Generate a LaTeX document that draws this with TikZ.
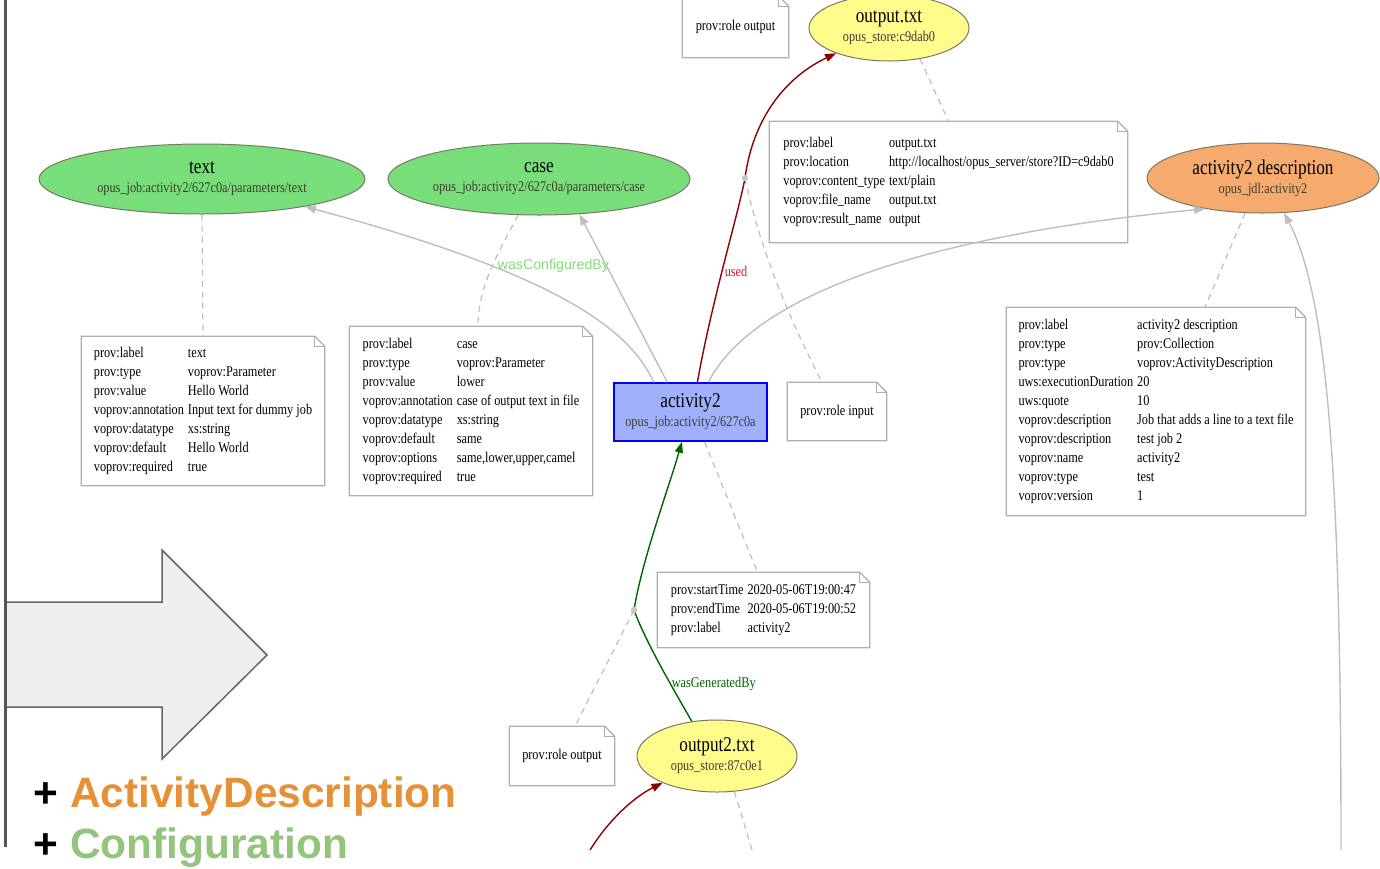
\documentclass[tikz,border=0pt]{standalone}
\usepackage{fontspec}
\usetikzlibrary{arrows.meta,shapes.geometric}

\newfontfamily\gvfont[FakeStretch=0.83]{Liberation Serif}
\newfontfamily\gvtitle[FakeStretch=0.82]{Liberation Serif}
\newfontfamily\slidefont{Liberation Sans}
\newcommand\gvsmall{\gvfont\fontsize{7.4}{9.5}\selectfont}
\newcommand\gvbig{\gvtitle\fontsize{10.5}{10}\selectfont}
\newcommand\slidebig{\slidefont\bfseries\fontsize{21.2}{25}\selectfont}

\definecolor{gvgreen}{RGB}{120,222,122}
\definecolor{gvyellow}{RGB}{255,252,140}
\definecolor{gvorange}{RGB}{246,170,110}
\definecolor{gvblue}{RGB}{160,176,250}
\definecolor{gvedge}{RGB}{190,190,190}
\definecolor{gvnote}{RGB}{175,175,175}
\definecolor{gvborder}{RGB}{120,120,100}
\definecolor{subtxt}{RGB}{60,60,50}
\definecolor{usedred}{RGB}{139,0,0}
\definecolor{usedlbl}{RGB}{225,20,30}
\definecolor{genlbl}{RGB}{0,100,0}
\definecolor{cfglbl}{RGB}{130,220,120}
\definecolor{adorange}{RGB}{230,145,56}
\definecolor{cfggreen}{RGB}{147,196,125}
\definecolor{bargray}{RGB}{85,85,85}
\definecolor{arrfill}{RGB}{238,238,238}

\tikzset{every picture/.style={line width=0.75pt}}

\begin{document}
\begin{tikzpicture}[x=0.5pt,y=-0.5pt,
  ent/.style={ellipse, draw=gvborder, line width=0.5pt, inner sep=0pt, align=center, font=\gvsmall},
  actbox/.style={rectangle, draw=blue, fill=gvblue, line width=0.75pt, inner sep=0pt, align=center, font=\gvsmall, minimum width=76.5pt, minimum height=29pt},
  note/.style={rectangle, fill=white, inner sep=0pt, align=left, font=\gvsmall},
  notefr/.style={draw=gvnote, line width=0.6pt},
  tip/.style={-{Triangle[length=5.5pt,width=4pt]}},
  rel/.style={draw=gvedge, line width=0.7pt, tip},
  usededge/.style={draw=usedred, line width=0.7pt, tip},
  genedge/.style={draw=genlbl, line width=0.7pt, tip},
  ann/.style={draw=gvedge, line width=0.6pt, dash pattern=on 3pt off 2.5pt},
  lbl/.style={anchor=west, inner sep=0pt, font=\gvsmall}]
\useasboundingbox (0,0) rectangle (1380,868);
\clip (0,0) rectangle (1380,868);

%Shape: Arrow [left part of the slide]
\draw [draw=bargray!90, fill=arrfill, line width=0.75pt] (6,602) -- (162,602) -- (162,550) -- (267,655) -- (162,759) -- (162,707) -- (6,707) ;
\draw [bargray, line width=1.5pt] (5,0) -- (5,847) ;

% Text Node
\node [anchor=base west, inner sep=0pt, font=\slidebig] (plusAD) at (33,807) {+ \textcolor{adorange}{ActivityDescription}};
% Text Node
\node [anchor=base west, inner sep=0pt, font=\slidebig] (plusCfg) at (33,858) {+ \textcolor{cfggreen}{Configuration}};

%Entities and activity
\node [ent, fill=gvgreen, minimum width=163pt, minimum height=35pt] (txt) at (202,179) {{\gvbig text}\\{\color{subtxt}opus\_job:activity2/627c0a/parameters/text}};
\node [ent, fill=gvgreen, minimum width=151pt, minimum height=36pt] (case) at (539,179) {{\gvbig case}\\{\color{subtxt}opus\_job:activity2/627c0a/parameters/case}};
\node [ent, fill=gvyellow, minimum width=80pt, minimum height=33pt] (out) at (889,28) {{\gvbig output.txt}\\{\color{subtxt}opus\_store:c9dab0}};
\node [ent, fill=gvorange, minimum width=116pt, minimum height=35pt] (desc) at (1263,178) {{\gvbig activity2 description}\\{\color{subtxt}opus\_jdl:activity2}};
\node [ent, fill=gvyellow, minimum width=80pt, minimum height=36pt] (out2) at (717,756) {{\gvbig output2.txt}\\{\color{subtxt}opus\_store:87c0e1}};
\node [actbox] (act) at (690.5,412) {{\gvbig activity2}\\{\color{subtxt}opus\_job:activity2/627c0a}};

%Notes
\node [note, minimum width=52.5pt, minimum height=30pt] (roleTop) at (735.5,27) {prov:role output};
\node [note, minimum width=178.5pt, minimum height=60pt] (outNote) at (948.5,182) {\begin{tabular}{@{}l@{\hspace{2pt}}l@{}}
prov:label & output.txt\\
prov:location & http://localhost/opus\_server/store?ID=c9dab0\\
voprov:content\_type & text/plain\\
voprov:file\_name & output.txt\\
voprov:result\_name & output
\end{tabular}};
\node [note, minimum width=121pt, minimum height=74pt] (textNote) at (203,411) {\begin{tabular}{@{}l@{\hspace{2pt}}l@{}}
prov:label & text\\
prov:type & voprov:Parameter\\
prov:value & Hello World\\
voprov:annotation & Input text for dummy job\\
voprov:datatype & xs:string\\
voprov:default & Hello World\\
voprov:required & true
\end{tabular}};
\node [note, minimum width=121pt, minimum height=84pt] (caseNote) at (471,411) {\begin{tabular}{@{}l@{\hspace{2pt}}l@{}}
prov:label & case\\
prov:type & voprov:Parameter\\
prov:value & lower\\
voprov:annotation & case of output text in file\\
voprov:datatype & xs:string\\
voprov:default & same\\
voprov:options & same,lower,upper,camel\\
voprov:required & true
\end{tabular}};
\node [note, minimum width=49pt, minimum height=28.5pt] (roleIn) at (837,411.5) {prov:role input};
\node [note, minimum width=149pt, minimum height=103.5pt] (descNote) at (1156,411.5) {\begin{tabular}{@{}l@{\hspace{2pt}}l@{}}
prov:label & activity2 description\\
prov:type & prov:Collection\\
prov:type & voprov:ActivityDescription\\
uws:executionDuration & 20\\
uws:quote & 10\\
voprov:description & Job that adds a line to a text file\\
voprov:description & test job 2\\
voprov:name & activity2\\
voprov:type & test\\
voprov:version & 1
\end{tabular}};
\node [note, minimum width=105.5pt, minimum height=37pt] (timeNote) at (763.5,610) {\begin{tabular}{@{}l@{\hspace{2pt}}l@{}}
prov:startTime & 2020-05-06T19:00:47\\
prov:endTime & 2020-05-06T19:00:52\\
prov:label & activity2
\end{tabular}};
\node [note, minimum width=52pt, minimum height=29pt] (roleBot) at (562,756) {prov:role output};

\foreach \n in {roleTop,outNote,textNote,caseNote,roleIn,descNote,timeNote,roleBot} {
  \draw [notefr] (\n.north west) -- ([xshift=-5pt]\n.north east) -- ([yshift=-5pt]\n.north east) -- (\n.south east) -- (\n.south west) -- cycle ;
  \draw [notefr] ([xshift=-5pt]\n.north east) |- ([yshift=-5pt]\n.north east) ;
}

\coordinate (dUsed) at (745,178);
\coordinate (dGen) at (634,610);
\coordinate (inOut2) at (590,850);
\coordinate (downOut2) at (752,850);
\coordinate (inDesc) at (1341,850);

%Dashed annotation links
\draw [ann] (txt.south) -- (textNote.north) ;
\draw [ann] (case.-120) .. controls (500,250) and (478,285) .. ([xshift=3.5pt]caseNote.north) ;
\draw [ann] (out.-45) -- (outNote.north) ;
\draw [ann] (dUsed) .. controls (760,250) and (790,320) .. ([xshift=-7.5pt]roleIn.north) ;
\draw [ann] ([xshift=7pt]act.south) -- ([xshift=-3pt]timeNote.north) ;
\draw [ann] (desc.-117) -- ([xshift=24.5pt]descNote.north) ;
\draw [ann] (dGen) -- ([xshift=6.5pt]roleBot.north) ;
\draw [ann] (out2.-64) -- (downOut2) ;

%Relations
\draw [rel] (act.141) .. controls (630,330) and (560,275) .. (txt) ;
\draw [rel] (act.128) -- (case.-41) ;
\draw [rel] (act.59) .. controls (745,310) and (880,240) .. (desc.208) ;
\draw [rel] (inDesc) .. controls (1341,500) and (1330,300) .. (desc.-59) ;
\draw [usededge] (act.77) .. controls (712,300) and (738,215) .. (dUsed) .. controls (752,125) and (780,80) .. (out) ;
\draw [usededge] (inOut2) .. controls (612,815) and (638,795) .. (out2) ;
\draw [genedge] (out2.126) .. controls (668,680) and (645,640) .. (dGen) .. controls (642,560) and (668,490) .. (act.-106) ;
\fill [gray!45] (dUsed) circle [radius=1.6pt] ;
\fill [gray!45] (dGen) circle [radius=1.6pt] ;

% Edge labels
\node [lbl, text=usedlbl] (lblUsed) at (724,271) {used};
\node [lbl, text=cfglbl, font=\slidefont\fontsize{7.1}{8}\selectfont] (lblCfg) at (497,266) {wasConfiguredBy};
\node [lbl, text=genlbl] (lblGen) at (671,684) {wasGeneratedBy};

\end{tikzpicture}
\end{document}
